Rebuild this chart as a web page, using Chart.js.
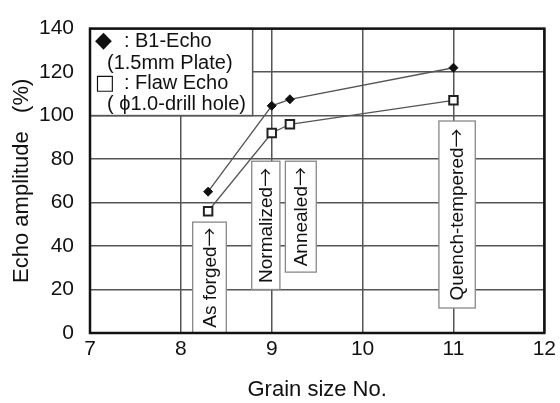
<!DOCTYPE html>
<html>
<head>
<meta charset="utf-8">
<script src="https://cdn.jsdelivr.net/npm/chart.js@4.4.1/dist/chart.umd.min.js"></script>
<style>
  html, body { margin: 0; padding: 0; background: #fff; }
  #wrap { width: 560px; height: 403px; }
</style>
</head>
<body>
<div id="wrap"><canvas id="chart" width="560" height="403"></canvas></div>
<script>
// grain size No. for each heat treatment
const grainSize = [8.3, 9.0, 9.2, 11.0];
// echo amplitude (%)
const b1Echo = [65, 104.5, 107.5, 122];
const flawEcho = [56, 92, 96, 107];
const treatments = ['As forged', 'Normalized', 'Annealed', 'Quench-tempered'];
const xTicks = [7, 8, 9, 10, 11, 12];
const yTicks = [0, 20, 40, 60, 80, 100, 120, 140];

const FONT = '"Liberation Sans", Arial, "DejaVu Sans", sans-serif';
const ARROW_FONT = '"Noto Sans CJK JP", "DejaVu Sans", sans-serif';

// white label boxes sit on top of the grid, under the lines (data units)
const boxLayout = [
  { x0: 8.13, x1: 8.50, y0: 0, y1: 51 },
  { x0: 8.78, x1: 9.09, y0: 20, y1: 79 },
  { x0: 9.15, x1: 9.49, y0: 28, y1: 79 },
  { x0: 10.84, x1: 11.24, y0: 11.5, y1: 97.5 },
];

// word + full width arrow, centred on (0,0), squeezed if it would not fit
function drawLabel(ctx, word, maxW) {
  ctx.font = '19px ' + FONT;
  const ww = ctx.measureText(word).width;
  ctx.font = '19px ' + ARROW_FONT;
  const aw = ctx.measureText('→').width;
  const total = ww + aw;
  const k = Math.min(1, maxW / total);
  ctx.scale(k, 1);
  ctx.textBaseline = 'middle';
  ctx.textAlign = 'left';
  ctx.font = '19px ' + FONT;
  ctx.fillText(word, -total / 2, 1);
  ctx.font = '19px ' + ARROW_FONT;
  ctx.fillText('→', -total / 2 + ww, 0);
}

const overlayPlugin = {
  id: 'overlay',
  beforeDatasetsDraw(chart) {
    const { ctx, scales: { x, y }, chartArea } = chart;
    ctx.save();

    // legend box in the upper left corner
    const lx1 = x.getPixelForValue(8.79);
    const ly1 = y.getPixelForValue(100);
    ctx.fillStyle = '#fff';
    ctx.fillRect(chartArea.left, chartArea.top, lx1 - chartArea.left, ly1 - chartArea.top);
    ctx.strokeStyle = '#555';
    ctx.lineWidth = 1.5;
    ctx.strokeRect(chartArea.left, chartArea.top, lx1 - chartArea.left, ly1 - chartArea.top);

    ctx.fillStyle = '#111';
    ctx.textBaseline = 'middle';
    const L = chartArea.left;
    const T = chartArea.top;
    ctx.font = '22px "DejaVu Sans", sans-serif';
    ctx.fillText('◆', L + 5, T + 13);
    ctx.font = '21px "DejaVu Sans", sans-serif';
    ctx.fillText('□', L + 5, T + 55);
    ctx.font = '20px ' + FONT;
    ctx.fillText(':', L + 34, T + 13);
    ctx.fillText('B1-Echo', L + 45, T + 13);
    ctx.fillText('(1.5mm Plate)', L + 17, T + 35);
    ctx.fillText(':', L + 34, T + 55);
    ctx.fillText('Flaw Echo', L + 45, T + 55);
    ctx.fillText('( \u03d51.0-drill hole)', L + 17, T + 76);

    // treatment labels
    boxLayout.forEach((b, i) => {
      const px0 = x.getPixelForValue(b.x0);
      const px1 = x.getPixelForValue(b.x1);
      const py0 = y.getPixelForValue(b.y1);
      const py1 = y.getPixelForValue(b.y0);
      ctx.fillStyle = '#fff';
      ctx.fillRect(px0, py0, px1 - px0, py1 - py0);
      ctx.strokeStyle = '#888';
      ctx.lineWidth = 1.3;
      ctx.strokeRect(px0, py0, px1 - px0, py1 - py0);
      ctx.save();
      ctx.translate((px0 + px1) / 2, (py0 + py1) / 2);
      ctx.rotate(-Math.PI / 2);
      ctx.fillStyle = '#111';
      drawLabel(ctx, treatments[i], (py1 - py0) - 6);
      ctx.restore();
    });
    ctx.restore();
  },
  afterDatasetsDraw(chart) {
    const { ctx, chartArea } = chart;
    ctx.save();
    ctx.strokeStyle = '#111';
    ctx.lineWidth = 2.5;
    ctx.strokeRect(chartArea.left, chartArea.top, chartArea.right - chartArea.left, chartArea.bottom - chartArea.top);
    ctx.restore();
  }
};

new Chart(document.getElementById('chart'), {
  type: 'scatter',
  data: {
    datasets: [
      {
        label: 'B1-Echo (1.5mm Plate)',
        data: grainSize.map((g, i) => ({ x: g, y: b1Echo[i] })),
        showLine: true,
        borderColor: '#555',
        borderWidth: 1.3,
        pointStyle: 'rectRot',
        pointRadius: 4.5,
        pointBackgroundColor: '#111',
        pointBorderColor: '#111',
        pointBorderWidth: 1,
      },
      {
        label: 'Flaw Echo (\u03d51.0-drill hole)',
        data: grainSize.map((g, i) => ({ x: g, y: flawEcho[i] })),
        showLine: true,
        borderColor: '#555',
        borderWidth: 1.3,
        pointStyle: 'rect',
        pointRadius: 6,
        pointBackgroundColor: '#fff',
        pointBorderColor: '#222',
        pointBorderWidth: 2,
      },
    ],
  },
  options: {
    responsive: false,
    animation: false,
    layout: { padding: { top: 22, right: 12, left: 0, bottom: 0 } },
    plugins: {
      legend: { display: false },
      tooltip: { enabled: false },
    },
    scales: {
      x: {
        type: 'linear',
        min: 7,
        max: 12,
        afterBuildTicks: s => { s.ticks = xTicks.map(v => ({ value: v })); },
        afterFit: s => { s.height = 70; },
        ticks: { color: '#111', font: { family: FONT, size: 21 }, padding: 4 },
        grid: { color: '#555', lineWidth: 1.5, drawTicks: false },
        border: { display: false },
        title: {
          display: true,
          text: 'Grain size No.',
          color: '#111',
          font: { family: FONT, size: 22 },
          padding: { top: 0, bottom: 0 },
        },
      },
      y: {
        min: 0,
        max: 140,
        afterBuildTicks: s => { s.ticks = yTicks.map(v => ({ value: v })); },
        afterFit: s => { s.width = 90; },
        ticks: { color: '#111', font: { family: FONT, size: 21 }, padding: 16 },
        grid: { color: '#555', lineWidth: 1.5, drawTicks: false },
        border: { display: false },
        title: {
          display: true,
          text: 'Echo amplitude   (%)',
          color: '#111',
          font: { family: FONT, size: 22 },
          padding: { top: 9, bottom: 0 },
        },
      },
    },
  },
  plugins: [overlayPlugin],
});
</script>
</body>
</html>
